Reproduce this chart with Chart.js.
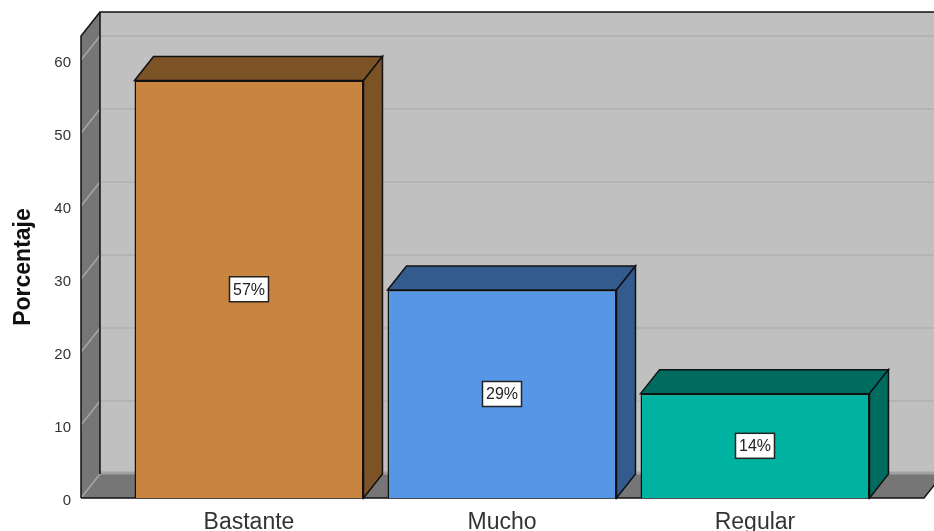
<!DOCTYPE html>
<html>
<head>
<meta charset="utf-8">
<title>Porcentaje</title>
<script src="https://cdn.jsdelivr.net/npm/chart.js@4"></script>
<style>
  html, body { margin: 0; padding: 0; background: #fff; overflow: hidden; }
  canvas { display: block; }
</style>
</head>
<body>
<canvas id="chart" width="934" height="531"></canvas>
<script>
const categories = ['Bastante', 'Mucho', 'Regular'];
const porcentaje = [57.2, 28.5, 14.3];
const frontColors = ['#c9853f', '#5596e6', '#00b2a0'];
const sideColors = ['#7c5227', '#345b8e', '#006b5f'];
const yTicks = [0, 10, 20, 30, 40, 50, 60];

// profundidad de la caja 3D
const depthX = 19;
const depthY = 24;
const yMax = 63.3;
const labelShift = 0.4; // los numeros del eje van 3px por debajo de la rejilla

function poly(ctx, pts, fill, stroke, lw) {
  ctx.beginPath();
  pts.forEach((p, i) => i ? ctx.lineTo(p[0], p[1]) : ctx.moveTo(p[0], p[1]));
  ctx.closePath();
  if (fill) { ctx.fillStyle = fill; ctx.fill(); }
  if (stroke) { ctx.strokeStyle = stroke; ctx.lineWidth = lw; ctx.stroke(); }
}

const boxPlugin = {
  id: 'box3d',
  beforeDatasetsDraw(chart) {
    const { ctx, chartArea: a, scales: { y } } = chart;
    const dx = depthX, dy = depthY;
    ctx.save();
    // pared del fondo
    ctx.fillStyle = '#c0c0c0';
    ctx.fillRect(a.left + dx, a.top - dy, a.right - a.left, a.bottom - a.top);
    // pared lateral
    poly(ctx, [[a.left, a.top], [a.left + dx, a.top - dy], [a.left + dx, a.bottom - dy], [a.left, a.bottom]], '#767676');
    // suelo
    poly(ctx, [[a.left, a.bottom], [a.left + dx, a.bottom - dy], [a.right + dx, a.bottom - dy], [a.right, a.bottom]], '#767676');
    // rejilla
    yTicks.forEach(v => {
      const py = y.getPixelForValue(v);
      ctx.strokeStyle = v === 0 ? '#a2a2a2' : '#b1b1b1';
      ctx.lineWidth = v === 0 ? 3 : 1.5;
      ctx.beginPath();
      ctx.moveTo(a.left + dx, py - dy - (v === 0 ? 1 : 0));
      ctx.lineTo(a.right + dx, py - dy - (v === 0 ? 1 : 0));
      ctx.stroke();
      ctx.strokeStyle = '#a6a6a6';
      ctx.lineWidth = 1.5;
      ctx.beginPath();
      ctx.moveTo(a.left, py);
      ctx.lineTo(a.left + dx, py - dy);
      ctx.stroke();
    });
    // bordes
    ctx.strokeStyle = '#111';
    ctx.lineWidth = 1.5;
    ctx.beginPath();
    ctx.moveTo(a.left, a.bottom);
    ctx.lineTo(a.left, a.top);
    ctx.lineTo(a.left + dx, a.top - dy);
    ctx.lineTo(a.right + dx, a.top - dy);
    ctx.moveTo(a.left + dx, a.top - dy);
    ctx.lineTo(a.left + dx, a.bottom - dy);
    ctx.moveTo(a.left, a.bottom);
    ctx.lineTo(a.right, a.bottom);
    ctx.lineTo(a.right + dx, a.bottom - dy);
    ctx.stroke();
    ctx.restore();
  },
  afterDatasetsDraw(chart) {
    const { ctx } = chart;
    const bars = chart.getDatasetMeta(0).data;
    const dx = depthX, dy = depthY;
    ctx.save();
    bars.forEach((bar, i) => {
      const l = bar.x - bar.width / 2, r = bar.x + bar.width / 2;
      poly(ctx, [[l, bar.y], [l + dx, bar.y - dy], [r + dx, bar.y - dy], [r, bar.y]], sideColors[i], '#111', 1.5);
      poly(ctx, [[r, bar.y], [r + dx, bar.y - dy], [r + dx, bar.base - dy], [r, bar.base]], sideColors[i], '#111', 1.5);
      // etiqueta
      const cy = (bar.y + bar.base) / 2;
      ctx.fillStyle = '#fff';
      ctx.strokeStyle = '#222';
      ctx.lineWidth = 1.5;
      ctx.fillRect(bar.x - 19.5, cy - 12.5, 39, 25);
      ctx.strokeRect(bar.x - 19.5, cy - 12.5, 39, 25);
      ctx.fillStyle = '#222';
      ctx.font = '16px "Liberation Sans", Arial, sans-serif';
      ctx.textAlign = 'center';
      ctx.textBaseline = 'middle';
      ctx.fillText(Math.round(porcentaje[i]) + '%', bar.x, cy + 1);
    });
    ctx.restore();
  }
};

new Chart(document.getElementById('chart'), {
  type: 'bar',
  data: {
    datasets: [{
      data: categories.map((c, i) => ({ x: i, y: porcentaje[i] })),
      backgroundColor: frontColors,
      borderColor: '#111',
      borderWidth: 1.5,
      categoryPercentage: 0.905,
      barPercentage: 1
    }]
  },
  plugins: [boxPlugin],
  options: {
    responsive: false,
    animation: false,
    layout: { padding: { top: 36, right: 10, left: 0, bottom: 0 } },
    plugins: { legend: { display: false }, tooltip: { enabled: false } },
    scales: {
      x: {
        type: 'linear',
        offset: false,
        min: -0.664,
        max: 2.668,
        afterBuildTicks: s => { s.ticks = categories.map((c, i) => ({ value: i })); },
        afterFit: s => { s.height = 33; },
        grid: { display: false, drawTicks: false },
        border: { display: false },
        ticks: {
          autoSkip: false,
          maxRotation: 0,
          padding: 11,
          color: '#333',
          font: { family: '"Liberation Sans", Arial, sans-serif', size: 23 },
          callback: v => categories[v]
        }
      },
      y: {
        display: false,
        min: 0,
        max: yMax
      },
      yLabels: {
        axis: 'y',
        position: 'left',
        min: labelShift,
        max: yMax + labelShift,
        afterBuildTicks: s => { s.ticks = yTicks.map(v => ({ value: v })); },
        afterFit: s => { s.width = 81; },
        grid: { display: false, drawTicks: false },
        border: { display: false },
        title: {
          display: true,
          text: 'Porcentaje',
          color: '#111',
          padding: { top: 10, bottom: 0 },
          font: { family: '"Liberation Sans", Arial, sans-serif', size: 23, weight: 'bold' }
        },
        ticks: {
          padding: 10,
          color: '#333',
          font: { family: '"Liberation Sans", Arial, sans-serif', size: 15 }
        }
      }
    }
  }
});
</script>
</body>
</html>
